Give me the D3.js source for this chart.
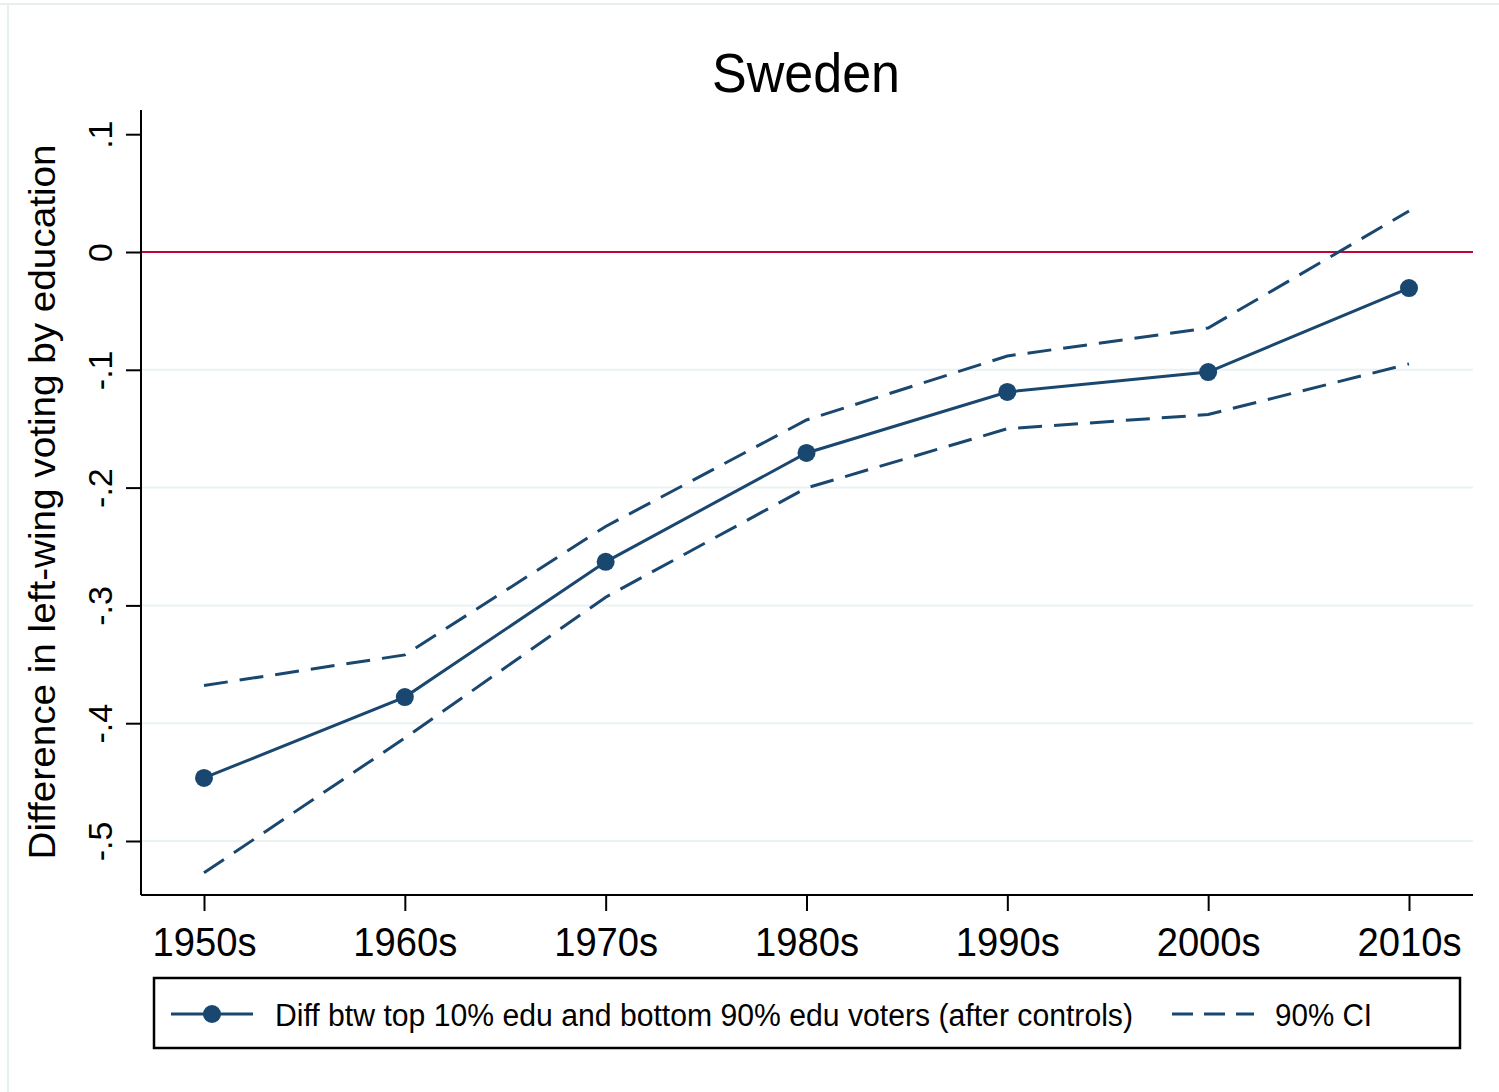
<!DOCTYPE html>
<html>
<head>
<meta charset="utf-8">
<script src="https://cdn.jsdelivr.net/npm/d3@7"></script>
<style>
  html, body { margin: 0; padding: 0; background: #fff; }
  svg { display: block; font-family: "Liberation Sans", Arial, sans-serif; }
</style>
</head>
<body>
<svg id="chart" width="1499" height="1092"></svg>
<script>
// Difference in left-wing voting: top 10% vs bottom 90% educated voters, Sweden
const decades = ["1950s", "1960s", "1970s", "1980s", "1990s", "2000s", "2010s"];
const estimate = [-0.4465, -0.3778, -0.2630, -0.1706, -0.1188, -0.1019, -0.0306];
const ciUpper  = [-0.3680, -0.3420, -0.2330, -0.1426, -0.0883, -0.0645, 0.0348];
const ciLower  = [-0.5270, -0.4126, -0.2930, -0.2003, -0.1500, -0.1380, -0.0950];
const yTicks   = [0.1, 0, -0.1, -0.2, -0.3, -0.4, -0.5];
const yTickLabels = [".1", "0", "-.1", "-.2", "-.3", "-.4", "-.5"];
const gridTicks = [-0.1, -0.2, -0.3, -0.4, -0.5];

const navy = "#1a476f";
const red = "#c10534";
const grid = "#eaf2f3";

const svg = d3.select("#chart");

// outer graph-region frame (top and left edges)
svg.append("line").attr("x1", 0).attr("x2", 1499).attr("y1", 4).attr("y2", 4)
  .attr("stroke", "#e6eef0").attr("stroke-width", 2);
svg.append("line").attr("x1", 8).attr("x2", 8).attr("y1", 4).attr("y2", 1092)
  .attr("stroke", "#e6eef0").attr("stroke-width", 2);

const plot = { left: 141, right: 1473, top: 110, bottom: 895 };

const x = d3.scalePoint().domain(decades).range([204, 1409]);
const y = d3.scaleLinear().domain([0, -0.5]).range([252, 841]);

// gridlines
svg.append("g").selectAll("line").data(gridTicks).join("line")
  .attr("x1", plot.left).attr("x2", plot.right)
  .attr("y1", d => y(d)).attr("y2", d => y(d))
  .attr("stroke", grid).attr("stroke-width", 2);

// zero reference line
svg.append("line")
  .attr("x1", plot.left).attr("x2", plot.right)
  .attr("y1", y(0)).attr("y2", y(0))
  .attr("stroke", red).attr("stroke-width", 2.2);

// y axis
const yAxis = svg.append("g").attr("transform", `translate(${plot.left},0)`)
  .call(d3.axisLeft(y).tickValues(yTicks).tickSize(15).tickPadding(0)
    .tickFormat((d, i) => yTickLabels[i]));
yAxis.select(".domain").attr("d", `M0,${plot.top}V${plot.bottom}`).attr("stroke", "#000").attr("stroke-width", 2);
yAxis.selectAll(".tick line").attr("stroke", "#000").attr("stroke-width", 2);
yAxis.selectAll(".tick text")
  .attr("x", 0).attr("dy", 0)
  .attr("transform", "translate(-41,0) rotate(-90)")
  .attr("text-anchor", "middle")
  .attr("dominant-baseline", "central")
  .attr("font-size", 34).attr("fill", "#000");

// x axis
const xAxis = svg.append("g").attr("transform", `translate(0,${plot.bottom})`)
  .call(d3.axisBottom(x).tickSize(16).tickPadding(10));
xAxis.select(".domain").attr("d", `M${plot.left},0H${plot.right}`).attr("stroke", "#000").attr("stroke-width", 2);
xAxis.selectAll(".tick line").attr("stroke", "#000").attr("stroke-width", 2);
xAxis.selectAll(".tick text")
  .attr("font-size", 40).attr("fill", "#000")
  .attr("y", 61).attr("dy", 0)
  .attr("textLength", 104).attr("lengthAdjust", "spacingAndGlyphs");

// confidence interval lines
const line = d3.line().x((d, i) => x(decades[i])).y(d => y(d));
[ciUpper, ciLower].forEach(s => {
  svg.append("path").attr("d", line(s))
    .attr("fill", "none").attr("stroke", navy).attr("stroke-width", 3)
    .attr("stroke-dasharray", "24,12");
});

// point estimates
svg.append("path").attr("d", line(estimate))
  .attr("fill", "none").attr("stroke", navy).attr("stroke-width", 3);
svg.append("g").selectAll("circle").data(estimate).join("circle")
  .attr("cx", (d, i) => x(decades[i])).attr("cy", d => y(d))
  .attr("r", 9).attr("fill", navy);

// title
svg.append("text").attr("x", 806).attr("y", 92).attr("text-anchor", "middle")
  .attr("font-size", 55).attr("fill", "#000")
  .attr("textLength", 188).attr("lengthAdjust", "spacingAndGlyphs")
  .text("Sweden");

// y axis title
svg.append("text")
  .attr("transform", `translate(55,502) rotate(-90)`)
  .attr("text-anchor", "middle").attr("font-size", 37).attr("fill", "#000")
  .attr("textLength", 715).attr("lengthAdjust", "spacingAndGlyphs")
  .text("Difference in left-wing voting by education");

// legend
const lg = svg.append("g");
lg.append("rect").attr("x", 154).attr("y", 978).attr("width", 1306).attr("height", 70)
  .attr("fill", "#fff").attr("stroke", "#000").attr("stroke-width", 2.5);
lg.append("line").attr("x1", 171).attr("x2", 253).attr("y1", 1014).attr("y2", 1014)
  .attr("stroke", navy).attr("stroke-width", 3);
lg.append("circle").attr("cx", 212).attr("cy", 1014).attr("r", 9).attr("fill", navy);
lg.append("text").attr("x", 275).attr("y", 1026).attr("font-size", 31).attr("fill", "#000")
  .attr("textLength", 858).attr("lengthAdjust", "spacingAndGlyphs")
  .text("Diff btw top 10% edu and bottom 90% edu voters (after controls)");
lg.append("line").attr("x1", 1172).attr("x2", 1254).attr("y1", 1014).attr("y2", 1014)
  .attr("stroke", navy).attr("stroke-width", 3).attr("stroke-dasharray", "21,11");
lg.append("text").attr("x", 1275).attr("y", 1026).attr("font-size", 31).attr("fill", "#000")
  .attr("textLength", 97).attr("lengthAdjust", "spacingAndGlyphs")
  .text("90% CI");
</script>
</body>
</html>
